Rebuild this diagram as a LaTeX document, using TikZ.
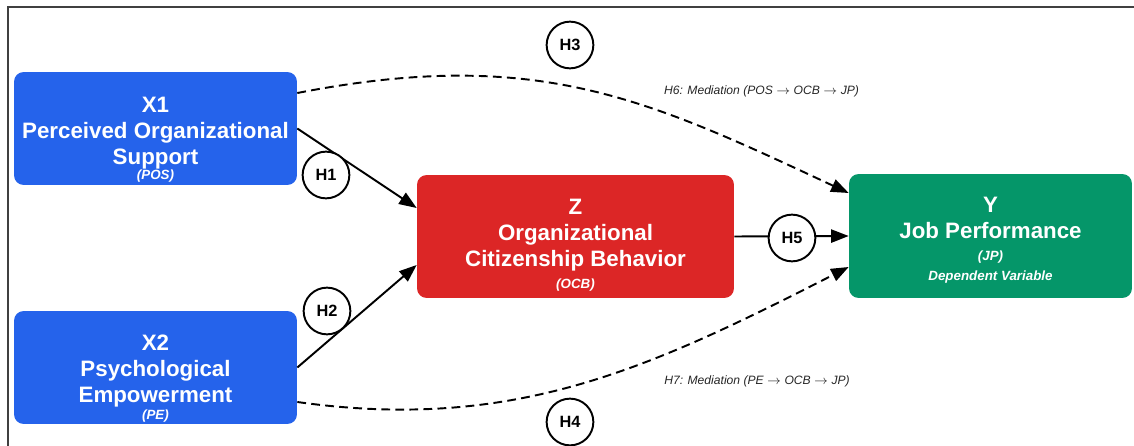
\documentclass[tikz,border=0pt]{standalone}
\usepackage{fontspec}
\setmainfont{Liberation Sans}
\usetikzlibrary{arrows.meta,calc}

\definecolor{posblue}{HTML}{2563EB}
\definecolor{ocbred}{HTML}{DC2626}
\definecolor{jpgreen}{HTML}{059669}

\tikzset{
	varbox/.style={draw=none, rounded corners=5.5pt, inner sep=0pt},
	vartext/.style={text=white, align=center, anchor=north, inner sep=0pt,
		font=\fontsize{12.7}{14.7}\selectfont\bfseries},
	hypo/.style={circle, draw=black, line width=1.1pt, fill=white, inner sep=0pt,
		minimum size=26.6pt, font=\fontsize{9.3}{11}\selectfont\bfseries},
	effect/.style={line width=1.1pt, -{Triangle[length=10pt,width=7.5pt]}},
	mediated/.style={effect, dash pattern=on 5pt off 3pt},
	medlabel/.style={inner sep=0pt, text=black!85, font=\fontsize{6.9}{8}\selectfont\itshape}
}
\newcommand{\abbr}[1]{{\fontsize{7.6}{9}\selectfont\itshape #1}}
\newcommand{\via}{~$\rightarrow$~}

\begin{document}
\begin{tikzpicture}[x=0.02cm, y=-0.02cm]
	
	\useasboundingbox (0,0) rectangle (1134,446);
	\draw[black!75, line width=0.6pt] (1134,7) -- (8,7) -- (8,446);
	
	% variables
	\node[varbox, fill=posblue, minimum width=5.66cm, minimum height=2.26cm] (x1) at (155.5,128.5) {};
	\node[varbox, fill=posblue, minimum width=5.66cm, minimum height=2.26cm] (x2) at (155.5,367.5) {};
	\node[varbox, fill=ocbred, minimum width=6.34cm, minimum height=2.46cm] (z) at (575.5,236.5) {};
	\node[varbox, fill=jpgreen, minimum width=5.66cm, minimum height=2.48cm] (y) at (990.5,236) {};
	
	\node[vartext] (x1txt) at (155.5,97) {X1\\Perceived Organizational\\Support\\[-6.2pt]\abbr{(POS)}};
	\node[vartext] (x2txt) at (155.5,335) {X2\\Psychological\\Empowerment\\[-5.1pt]\abbr{(PE)}};
	\node[vartext] (ztxt) at (575.5,199) {Z\\Organizational\\Citizenship Behavior\\[-2.2pt]\abbr{(OCB)}};
	\node[vartext] (ytxt) at (990.5,197) {Y\\Job Performance\\[-2.2pt]\abbr{(JP)}\\[-3.4pt]\abbr{Dependent Variable}};
	
	% direct effects
	\draw[effect] (x1.east) -- ($(z.west)+(0,-28.5)$);
	\draw[effect] (x2.east) -- ($(z.west)+(0,28.5)$);
	\draw[effect] (z.east) -- (y.west);
	
	% mediated paths
	\draw[mediated] ($(x1.east)+(0,-35.5)$) to[out=11, in=155, out distance=4.9cm, in distance=4.42cm] ($(y.west)+(0,-43)$);
	\draw[mediated] ($(x2.east)+(0,34.5)$) to[out=-8, in=207, out distance=4.4cm, in distance=4.4cm] ($(y.west)+(0,31)$);
	
	\node[medlabel] (h6txt) at (761.5,91) {H6: Mediation (POS\via OCB\via JP)};
	\node[medlabel] (h7txt) at (757,381) {H7: Mediation (PE\via OCB\via JP)};
	
	% hypotheses
	\node[hypo] (h1) at (326,175) {H1};
	\node[hypo] (h2) at (327,311) {H2};
	\node[hypo] (h3) at (570,45) {H3};
	\node[hypo] (h4) at (570,422) {H4};
	\node[hypo] (h5) at (792,238) {H5};
	
\end{tikzpicture}
\end{document}
